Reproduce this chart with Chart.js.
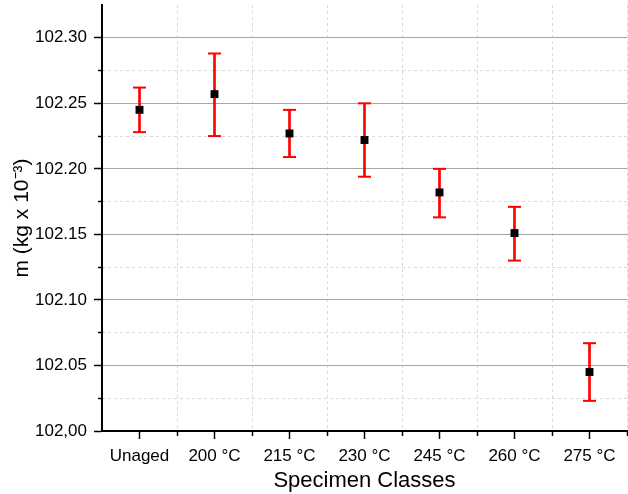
<!DOCTYPE html>
<html>
<head>
<meta charset="utf-8">
<script src="https://cdn.jsdelivr.net/npm/chart.js@4"></script>
<style>
  html, body { margin: 0; padding: 0; background: #fff; }
  #wrap { width: 628px; height: 494px; }
</style>
</head>
<body>
<div id="wrap"><canvas id="massChart"></canvas></div>
<script>
// DATA

const categories = ['Unaged', '200 °C', '215 °C', '230 °C', '245 °C', '260 °C', '275 °C'];
const massMean = [102.245, 102.257, 102.227, 102.222, 102.182, 102.151, 102.045];
const massHigh = [102.262, 102.288, 102.245, 102.250, 102.200, 102.171, 102.067];
const massLow  = [102.228, 102.225, 102.209, 102.194, 102.163, 102.130, 102.023];

const yTickValues = [102.00, 102.05, 102.10, 102.15, 102.20, 102.25, 102.30];
const yTickLabels = ['102,00', '102.05', '102.10', '102.15', '102.20', '102.25', '102.30'];
const yMinorValues = [102.025, 102.075, 102.125, 102.175, 102.225, 102.275];
const xTickValues = [0, 0.5, 1, 1.5, 2, 2.5, 3, 3.5, 4, 4.5, 5, 5.5, 6, 6.5];

Chart.defaults.font.family = "'Liberation Sans', Arial, sans-serif";
Chart.defaults.color = '#000';

const isMajorY = v => yTickValues.some(t => Math.abs(t - v) < 1e-6);
const isWholeX = v => Math.abs(v - Math.round(v)) < 1e-6;

const errorBars = categories.map((c, i) => ({ x: i, y: [massLow[i], massHigh[i]] }));
const capsHigh = categories.map((c, i) => ({ x: i, y: massHigh[i] }));
const capsLow = categories.map((c, i) => ({ x: i, y: massLow[i] }));
const means = categories.map((c, i) => ({ x: i, y: massMean[i] }));

new Chart(document.getElementById('massChart'), {
  type: 'bar',
  data: {
    datasets: [
      {
        type: 'bar',
        data: errorBars,
        backgroundColor: '#ff0000',
        borderWidth: 0,
        barThickness: 2,
        order: 3
      },
      {
        type: 'scatter',
        data: capsHigh.concat(capsLow),
        pointStyle: 'line',
        pointRadius: 6.5,
        borderColor: '#ff0000',
        pointBorderWidth: 2,
        order: 2
      },
      {
        type: 'scatter',
        data: means,
        pointStyle: 'rect',
        pointRadius: 5.6,
        backgroundColor: '#000',
        pointBorderWidth: 0,
        order: 1
      }
    ]
  },
  options: {
    responsive: true,
    maintainAspectRatio: false,
    animation: false,
    layout: { autoPadding: false, padding: { top: 5, right: 1, left: 6, bottom: 0 } },
    plugins: {
      legend: { display: false },
      tooltip: { enabled: false }
    },
    scales: {
      x: {
        type: 'linear',
        position: 'bottom',
        min: -0.5,
        max: 6.5,
        offset: false,
        afterBuildTicks: s => { s.ticks = xTickValues.map(v => ({ value: v })); },
        afterFit: s => { s.height = 63; s.paddingRight = 0; },
        ticks: {
          autoSkip: false,
          maxRotation: 0,
          padding: 7,
          font: { size: 17 },
          callback: v => isWholeX(v) ? categories[Math.round(v)] : ''
        },
        grid: {
          offset: false,
          color: ctx => (ctx.tick && !isWholeX(ctx.tick.value)) ? '#d9d9d9' : 'rgba(0,0,0,0)',
          tickColor: '#000',
          tickLength: 8,
          tickWidth: 1.5,
          tickBorderDash: ctx => (ctx.tick && isWholeX(ctx.tick.value)) ? [] : [4, 100]
        },
        border: { color: '#000', width: 2, dash: [3, 3] },
        title: {
          display: true,
          text: 'Specimen Classes',
          font: { size: 22 },
          padding: { top: 3, bottom: 0 }
        }
      },
      y: {
        type: 'linear',
        position: 'left',
        min: 102.0,
        max: 102.325,
        afterBuildTicks: s => {
          s.ticks = yTickValues.concat(yMinorValues).sort((a, b) => a - b).map(v => ({ value: v }));
        },
        afterFit: s => { s.width = 96; s.paddingTop = 0; },
        ticks: {
          autoSkip: false,
          padding: 7,
          font: { size: 17 },
          callback: v => {
            const k = yTickValues.findIndex(t => Math.abs(t - v) < 1e-6);
            return k >= 0 ? yTickLabels[k] : '';
          }
        },
        grid: {
          color: ctx => (ctx.tick && isMajorY(ctx.tick.value)) ? '#a6a6a6' : 'rgba(0,0,0,0)',
          tickColor: '#000',
          tickLength: 8,
          tickWidth: 1.5,
          tickBorderDash: ctx => (ctx.tick && isMajorY(ctx.tick.value)) ? [] : [0, 4, 4, 100]
        },
        border: { color: '#000', width: 2 },
        title: {
          display: true,
          text: 'm (kg x 10⁻³)',
          font: { size: 21 },
          padding: { top: 4, bottom: 1 }
        }
      },
      yMinor: {
        type: 'linear',
        position: 'right',
        min: 102.0,
        max: 102.325,
        afterBuildTicks: s => { s.ticks = yMinorValues.map(v => ({ value: v })); },
        afterFit: s => { s.width = 0; s.paddingTop = 0; },
        ticks: { display: false },
        grid: { color: '#d9d9d9', drawTicks: false },
        border: { display: false, dash: [3, 3] }
      }
    }
  }
});
</script>
</body>
</html>
